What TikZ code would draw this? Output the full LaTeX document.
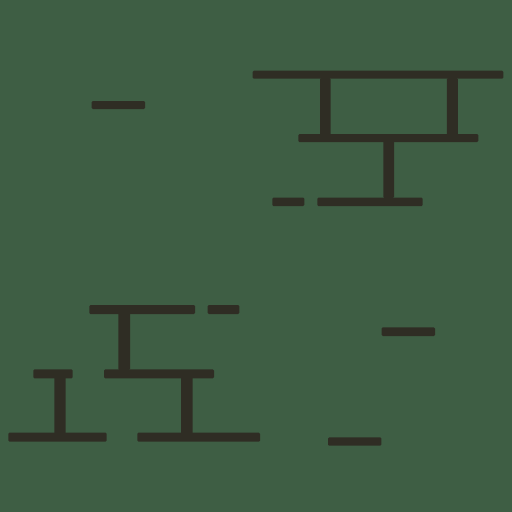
\documentclass[tikz,border=0pt]{standalone}
\definecolor{bgcol}{RGB}{62,94,68}
\definecolor{barcol}{RGB}{47,45,36}
\begin{document}
\begin{tikzpicture}[x=1pt,y=-1pt,
  brick/.style={fill=barcol, draw=none, rounded corners=1.2pt}]
\fill[bgcol] (0,0) rectangle (512,512);
\useasboundingbox (0,0) rectangle (512,512);
% upper right group
\path[brick] (252.7,70.7) rectangle (503.3,78.7);
\path[brick] (320,78) rectangle (330.5,135);
\path[brick] (446.8,78) rectangle (457.8,135);
\path[brick] (298.3,134) rectangle (478.3,142);
\path[brick] (383.3,141) rectangle (394,198);
\path[brick] (317.3,197.5) rectangle (422.7,206);
\path[brick] (272.3,197.5) rectangle (304.3,206);
% lone dash top left
\path[brick] (91.7,101) rectangle (145,109);
% lower left group
\path[brick] (89.3,305) rectangle (195,314);
\path[brick] (207.7,305) rectangle (239.3,314);
\path[brick] (118.3,313) rectangle (130,370);
\path[brick] (33.3,369.3) rectangle (72.7,378.3);
\path[brick] (104,369.3) rectangle (214,378.3);
\path[brick] (54.3,377) rectangle (65.7,434);
\path[brick] (181,377) rectangle (192.7,434);
\path[brick] (8.3,432.7) rectangle (106.7,441.7);
\path[brick] (137.3,432.7) rectangle (260,441.7);
% lone dashes lower right
\path[brick] (381.7,327.3) rectangle (435,336);
\path[brick] (328,437.3) rectangle (381.3,445.7);
\end{tikzpicture}
\end{document}
